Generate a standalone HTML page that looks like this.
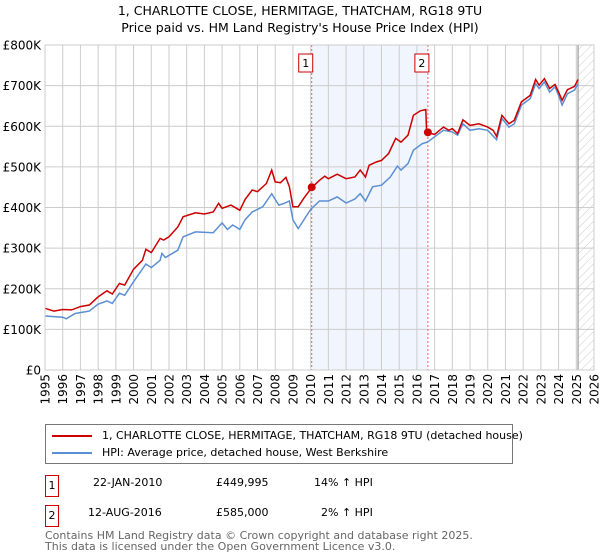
<!DOCTYPE html>
<html><head><meta charset="utf-8"><style>
body{margin:0;background:#fff;font-family:"Liberation Sans","DejaVu Sans",sans-serif;}
#wrap{position:relative;width:600px;height:560px;overflow:hidden;}
</style></head><body>
<div id="wrap">
<svg id="chart" width="600" height="560" xmlns="http://www.w3.org/2000/svg" style="font-family:'DejaVu Sans','Liberation Sans',sans-serif">
<defs><pattern id="hatch" width="6" height="6" patternUnits="userSpaceOnUse" patternTransform="rotate(45)"><line x1="0" y1="0" x2="0" y2="6" stroke="#ccc" stroke-width="1"/></pattern></defs>
<text x="300" y="15" text-anchor="middle" font-size="12.5" fill="#000">1, CHARLOTTE CLOSE, HERMITAGE, THATCHAM, RG18 9TU</text>
<text x="300" y="32" text-anchor="middle" font-size="12.5" fill="#000">Price paid vs. HM Land Registry's House Price Index (HPI)</text>
<g id="grid"></g><g id="marks"></g><g id="axes"></g>
</svg>
<div style="position:absolute;left:45px;top:424px;width:466px;height:38px;border:1px solid #777;font-size:11px;font-family:'DejaVu Sans',sans-serif;">
 <div style="position:absolute;left:6px;top:4px;white-space:nowrap"><span style="display:inline-block;width:40px;height:2px;background:#cc0000;vertical-align:middle;margin-right:10px"></span>1, CHARLOTTE CLOSE, HERMITAGE, THATCHAM, RG18 9TU (detached house)</div>
 <div style="position:absolute;left:6px;top:21px;white-space:nowrap"><span style="display:inline-block;width:40px;height:2px;background:#5b8fd4;vertical-align:middle;margin-right:10px"></span>HPI: Average price, detached house, West Berkshire</div>
</div>
<div style="font-size:11px;font-family:'DejaVu Sans',sans-serif">
 <div style="position:absolute;left:45px;top:475px;width:12px;height:20px;border:1px solid #cc0000;text-align:center;line-height:20px">1</div>
 <div style="position:absolute;left:93px;top:476px">22-JAN-2010</div>
 <div style="position:absolute;left:216px;top:476px">£449,995</div>
 <div style="position:absolute;left:314px;top:476px">14% ↑ HPI</div>
 <div style="position:absolute;left:45px;top:505px;width:12px;height:20px;border:1px solid #cc0000;text-align:center;line-height:20px">2</div>
 <div style="position:absolute;left:88px;top:506px">12-AUG-2016</div>
 <div style="position:absolute;left:216px;top:506px">£585,000</div>
 <div style="position:absolute;left:321px;top:506px">2% ↑ HPI</div>
 <div style="position:absolute;left:45px;top:530px;color:#666;line-height:11px">Contains HM Land Registry data © Crown copyright and database right 2025.<br>This data is licensed under the Open Government Licence v3.0.</div>
</div>
</div>
<script>
const yTicks=[0,100,200,300,400,500,600,700,800];
const yTickLabels=["£0","£100K","£200K","£300K","£400K","£500K","£600K","£700K","£800K"];
const xYears=[1995,1996,1997,1998,1999,2000,2001,2002,2003,2004,2005,2006,2007,2008,2009,2010,2011,2012,2013,2014,2015,2016,2017,2018,2019,2020,2021,2022,2023,2024,2025,2026];
const redT=[1995,1995.5,1996,1996.5,1997,1997.5,1998,1998.5,1998.8,1999.2,1999.5,2000,2000.5,2000.7,2001,2001.5,2001.7,2002,2002.5,2002.8,2003.5,2004,2004.5,2004.8,2005,2005.5,2006,2006.3,2006.7,2007,2007.5,2007.8,2008,2008.3,2008.6,2008.8,2009,2009.3,2009.6,2010.06,2010.5,2010.8,2011,2011.5,2012,2012.5,2012.8,2013.1,2013.3,2013.7,2014,2014.4,2014.8,2015.1,2015.5,2015.8,2016.2,2016.5,2016.55,2016.62,2017,2017.5,2017.8,2018,2018.3,2018.6,2019,2019.5,2020,2020.3,2020.5,2020.8,2021.2,2021.5,2021.9,2022.4,2022.7,2022.9,2023.2,2023.5,2023.8,2024,2024.2,2024.5,2024.9,2025.1];
const redV=[152,145,149,148,156,160,180,195,187,213,209,248,270,297,289,324,320,328,352,377,387,384,389,410,398,406,393,420,443,439,459,492,463,461,474,451,402,402,422,449,467,477,471,482,471,475,492,475,504,512,516,533,570,561,578,627,638,641,586,584,580,598,590,594,582,616,602,606,598,590,575,627,606,615,660,676,715,701,717,693,703,684,664,690,698,715];
const blueT=[1995,1996,1996.2,1996.7,1997.5,1998,1998.5,1998.8,1999.2,1999.5,2000,2000.7,2001,2001.5,2001.6,2001.8,2002.5,2002.8,2003.5,2004.5,2005,2005.3,2005.6,2006,2006.3,2006.7,2007.3,2007.8,2008.2,2008.5,2008.8,2009,2009.3,2010,2010.5,2011,2011.5,2012,2012.5,2012.8,2013.1,2013.5,2014,2014.5,2014.9,2015.1,2015.5,2015.8,2016.3,2016.6,2017,2017.5,2018,2018.3,2018.6,2019,2019.5,2020,2020.5,2020.8,2021.2,2021.5,2021.9,2022.4,2022.7,2022.9,2023.2,2023.5,2023.8,2024,2024.2,2024.5,2024.9,2025.1];
const blueV=[133,130,126,139,145,162,170,164,189,184,217,261,252,270,287,277,295,328,340,338,362,346,357,346,370,389,402,434,406,410,416,370,348,395,416,416,426,411,421,434,416,451,455,475,502,492,508,541,557,561,574,590,586,578,606,590,594,590,567,619,598,606,652,668,705,693,709,684,697,676,652,680,689,705];
const saleT=[2010.06,2016.62];
const saleV=[450,585];
const saleLabels=["1","2"];

const X0=45,X1=594,Y0=370,Y1=45;
const xs=t=>X0+(t-1995)*(X1-X0)/31;
const ys=v=>Y0-v*(Y0-Y1)/800;
const NS="http://www.w3.org/2000/svg";
function mk(tag,attrs,parent){const e=document.createElementNS(NS,tag);for(const k in attrs)e.setAttribute(k,attrs[k]);parent.appendChild(e);return e;}
const grid=document.getElementById('grid'),marks=document.getElementById('marks'),axes=document.getElementById('axes');

// shaded span between sales
let sh=mk('rect',{x:xs(saleT[0]),y:Y1,width:xs(saleT[1])-xs(saleT[0]),height:Y0-Y1,fill:'#eef3fc',opacity:0.8},grid);


// hatched future
let ht=mk('rect',{x:xs(2025.1),y:Y1,width:X1-xs(2025.1),height:Y0-Y1,fill:'url(#hatch)'},grid);



yTicks.forEach((v,i)=>{
  let l=mk('line',{x1:X0,x2:X1,y1:ys(v),y2:ys(v),stroke:'#ccc','stroke-width':1},grid);
  
  
  let t=mk('text',{x:X0-4,y:ys(v)+4.5,'text-anchor':'end','font-size':12,fill:'#000'},axes);
  t.textContent=yTickLabels[i];
  
  
});
xYears.forEach(yr=>{
  let l=mk('line',{x1:xs(yr),x2:xs(yr),y1:Y1,y2:Y0,stroke:'#ccc','stroke-width':1},grid);
  
  
  let t=mk('text',{x:0,y:0,'text-anchor':'end','font-size':12,fill:'#000',transform:`translate(${xs(yr)+4.5},${Y0+4}) rotate(-90)`},axes);
  t.textContent=yr;
  
  
});
let cl=mk('line',{x1:xs(2025.1),x2:xs(2025.1),y1:Y1,y2:Y0,stroke:'#999','stroke-width':1.2},grid);



saleT.forEach((t,i)=>{
  let l=mk('line',{x1:xs(t),x2:xs(t),y1:Y1,y2:Y0,stroke:'#e06666','stroke-width':1,'stroke-dasharray':'2,2'},marks);
  
  
  let r=mk('rect',{x:xs(t)-13,y:54,width:14,height:18,fill:'#fff',stroke:'#cc0000','stroke-width':1},marks);
  
  
  let tx=mk('text',{x:xs(t)-6,y:67,'text-anchor':'middle','font-size':11,fill:'#000'},marks);
  tx.textContent=saleLabels[i];
  
  
});

function path(T,V){return T.map((t,i)=>(i?'L':'M')+xs(t).toFixed(1)+','+ys(V[i]).toFixed(1)).join('');}
let bl=mk('path',{d:path(blueT,blueV),fill:'none',stroke:'#5b8fd4','stroke-width':1.5},marks);


let rl=mk('path',{d:path(redT,redV),fill:'none',stroke:'#cc0000','stroke-width':1.5},marks);


saleT.forEach((t,i)=>{
  let c=mk('circle',{cx:xs(t),cy:ys(saleV[i]),r:4,fill:'#cc0000'},marks);
  
  
});
let fr=mk('rect',{x:X0,y:Y1,width:X1-X0,height:Y0-Y1,fill:'none',stroke:'#ccc','stroke-width':1},axes);


</script>
</body></html>
